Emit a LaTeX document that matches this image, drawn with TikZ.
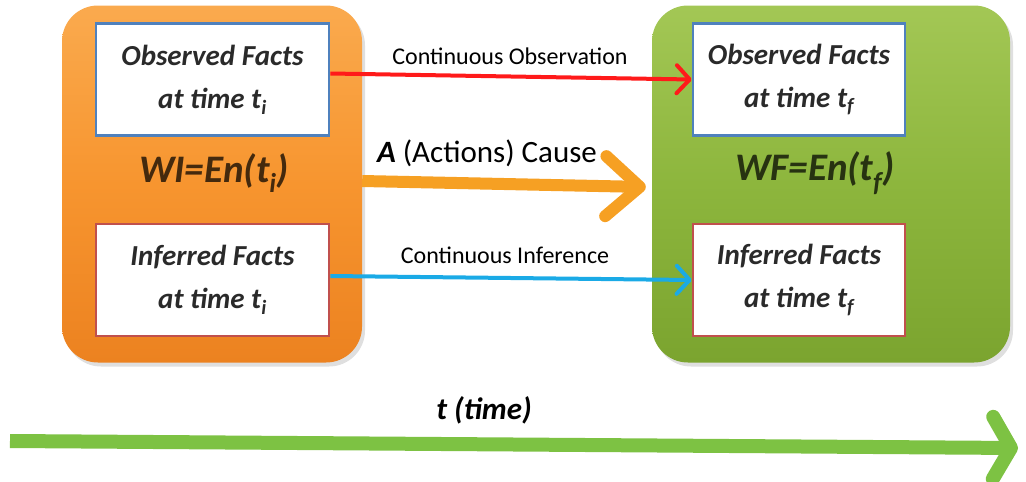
\documentclass[tikz,border=0pt]{standalone}
\usepackage{fontspec}
\setmainfont{Carlito}
\usetikzlibrary{arrows.meta,calc,shadows}
\definecolor{orA}{HTML}{FAAA4E}
\definecolor{orB}{HTML}{F7952F}
\definecolor{orC}{HTML}{EC8220}
\definecolor{grA}{HTML}{A3C755}
\definecolor{grB}{HTML}{8DB63D}
\definecolor{grC}{HTML}{7BA42F}
\definecolor{bordBlue}{HTML}{4F81BD}
\definecolor{bordRed}{HTML}{C0504D}
\definecolor{arRed}{HTML}{FF1A1A}
\definecolor{arOrange}{HTML}{F6A023}
\definecolor{arBlue}{HTML}{1AAAE6}
\definecolor{arGreen}{HTML}{7DC243}
\definecolor{txt}{HTML}{2A2A2A}
\tikzset{
  bigbox/.style={rounded corners=36pt, minimum width=#1, minimum height=357pt,
    drop shadow={shadow xshift=3pt, shadow yshift=-4pt, opacity=0.25}},
  factbox/.style={fill=white, draw=#1, line width=2.6pt, minimum width=233pt,
    minimum height=112pt, align=center, text=txt,
    font=\fontsize{29}{43}\selectfont\bfseries\itshape},
  worldlbl/.style={text=black, text opacity=0.72,
    font=\fontsize{39}{42}\selectfont\bfseries\itshape},
  thinarrow/.style={line width=4pt, -{Straight Barb[length=13pt, width=28pt, round]}},
  arrlbl/.style={text=black, font=\fontsize{24}{28}\selectfont}
}
\begin{document}
\begin{tikzpicture}[x=1pt,y=-1pt]
\useasboundingbox (0,0) rectangle (1026,482);
% big boxes
\node[bigbox=300pt, top color=orA, bottom color=orC, middle color=orB] (WI) at (212,184) {};
\node[bigbox=358pt, top color=grA, bottom color=grC, middle color=grB] (WF) at (831,184) {};
% fact boxes
\node[factbox=bordBlue] (obsI) at (212.5,79.5) {Observed Facts\\at time t\textsubscript{i}};
\node[factbox=bordRed] (infI) at (212.5,280) {Inferred Facts\\at time t\textsubscript{i}};
\node[factbox=bordBlue, minimum width=212pt] (obsF) at (799,79.5) {Observed Facts\\at time t\textsubscript{f}};
\node[factbox=bordRed, minimum width=212pt] (infF) at (799,280) {Inferred Facts\\at time t\textsubscript{f}};
% world labels
\node[worldlbl] (wil) at (214,173) {WI=En(t\textsubscript{i})};
\node[worldlbl] (wfl) at (815,173) {WF=En(t\textsubscript{f})};
% arrows
\draw[thinarrow, draw=arRed] ($(obsI.east)+(0,-6)$) -- (obsF.west);
\node[arrlbl] (lobs) at (510,56) {Continuous Observation};
\draw[thinarrow, draw=arBlue] ($(infI.east)+(0,-4)$) -- (infF.west);
\node[arrlbl] (linf) at (505,255) {Continuous Inference};
\draw[line width=12pt, draw=arOrange, -{Straight Barb[length=34pt, width=60pt, round]}]
  ($(WI.east)+(0,-3)$) -- ($(WF.west)+(-6,3)$);
\node[text=black, font=\fontsize{31}{34}\selectfont] (lact) at (487,153) {\textbf{\itshape A} (Actions) Cause};
% time arrow
\coordinate (ts) at (10,441);
\coordinate (te) at (1018,448);
\draw[line width=14pt, draw=arGreen, -{Straight Barb[length=18pt, width=62pt, round]}] (ts) -- (te);
\node[text=black, font=\fontsize{31}{34}\selectfont\bfseries\itshape] (ltime) at (484,410) {t (time)};
\end{tikzpicture}
\end{document}
